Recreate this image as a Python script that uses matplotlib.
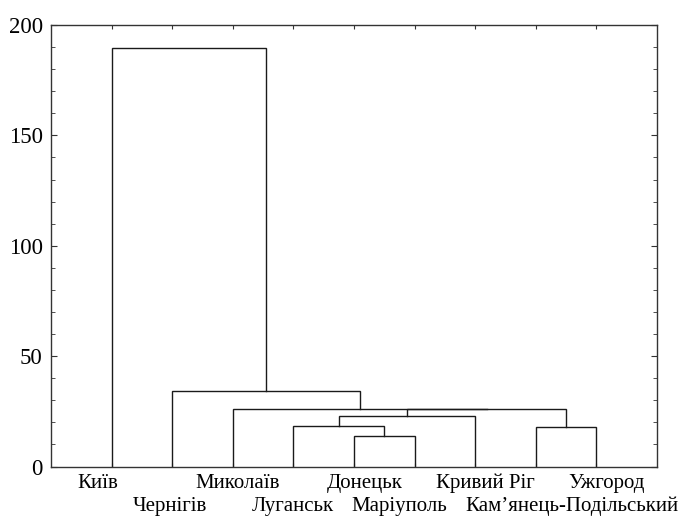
import matplotlib.pyplot as plt
from matplotlib.ticker import MultipleLocator

# Leaves in the order they appear along the x axis
cities = ['Київ', 'Чернігів', 'Миколаїв', 'Луганськ', 'Донецьк',
          'Маріуполь', 'Кривий Ріг', 'Кам’янець-Подільський', 'Ужгород']

# Merge steps: (left cluster, right cluster, linkage distance);
# leaves are 0..8, each merge creates cluster 9, 10, ...
merges = [
    (4, 5, 13.8),
    (7, 8, 17.9),
    (3, 9, 18.5),
    (11, 6, 22.9),
    (12, 10, 26.0),
    (2, 13, 26.2),
    (1, 14, 34.3),
    (0, 15, 189.4),
]

# label layout: row (0 = upper, 1 = lower) and horizontal nudge in points
label_row = [0, 1, 0, 1, 0, 1, 0, 1, 0]
label_dx = [-10, -1.5, 3.5, -0.5, 8, -11, 7, 26, 7]

plt.rcParams['font.family'] = ['Liberation Serif', 'DejaVu Serif']

fig = plt.figure(figsize=(6.93, 5.16), dpi=100)
ax = fig.add_axes([0.0736, 0.0959, 0.8745, 0.8557])

# position and height of every node
xpos = {i: i + 1 for i in range(len(cities))}
hgt = {i: 0.0 for i in range(len(cities))}
for k, (a, b, d) in enumerate(merges):
    node = len(cities) + k
    ax.plot([xpos[a], xpos[a], xpos[b], xpos[b]], [hgt[a], d, d, hgt[b]],
            color='#1a1a1a', lw=1.0, solid_joinstyle='miter')
    xpos[node] = (xpos[a] + xpos[b]) / 2
    hgt[node] = d

ax.set_xlim(0, len(cities) + 1)
ax.set_ylim(0, 200)

ax.yaxis.set_major_locator(MultipleLocator(50))
ax.yaxis.set_minor_locator(MultipleLocator(10))
ax.set_xticks(range(1, len(cities) + 1))
ax.set_xticklabels([])
ax.tick_params(axis='both', which='both', direction='in',
               top=True, right=True, color='#333333')
ax.tick_params(axis='y', which='major', length=4, labelsize=16.5, pad=6)
ax.tick_params(axis='y', which='minor', length=3)
ax.tick_params(axis='x', length=3)

for sp in ax.spines.values():
    sp.set_color('#333333')
    sp.set_linewidth(1.0)

# two staggered rows of leaf labels
for i, name in enumerate(cities):
    ax.annotate(name, xy=(i + 1, 0), xycoords=('data', 'axes fraction'),
                xytext=(label_dx[i], -15.3 - 16.5 * label_row[i]),
                textcoords='offset points', ha='center', va='baseline',
                fontsize=15, annotation_clip=False)

fig.savefig('out.png', dpi=100)
